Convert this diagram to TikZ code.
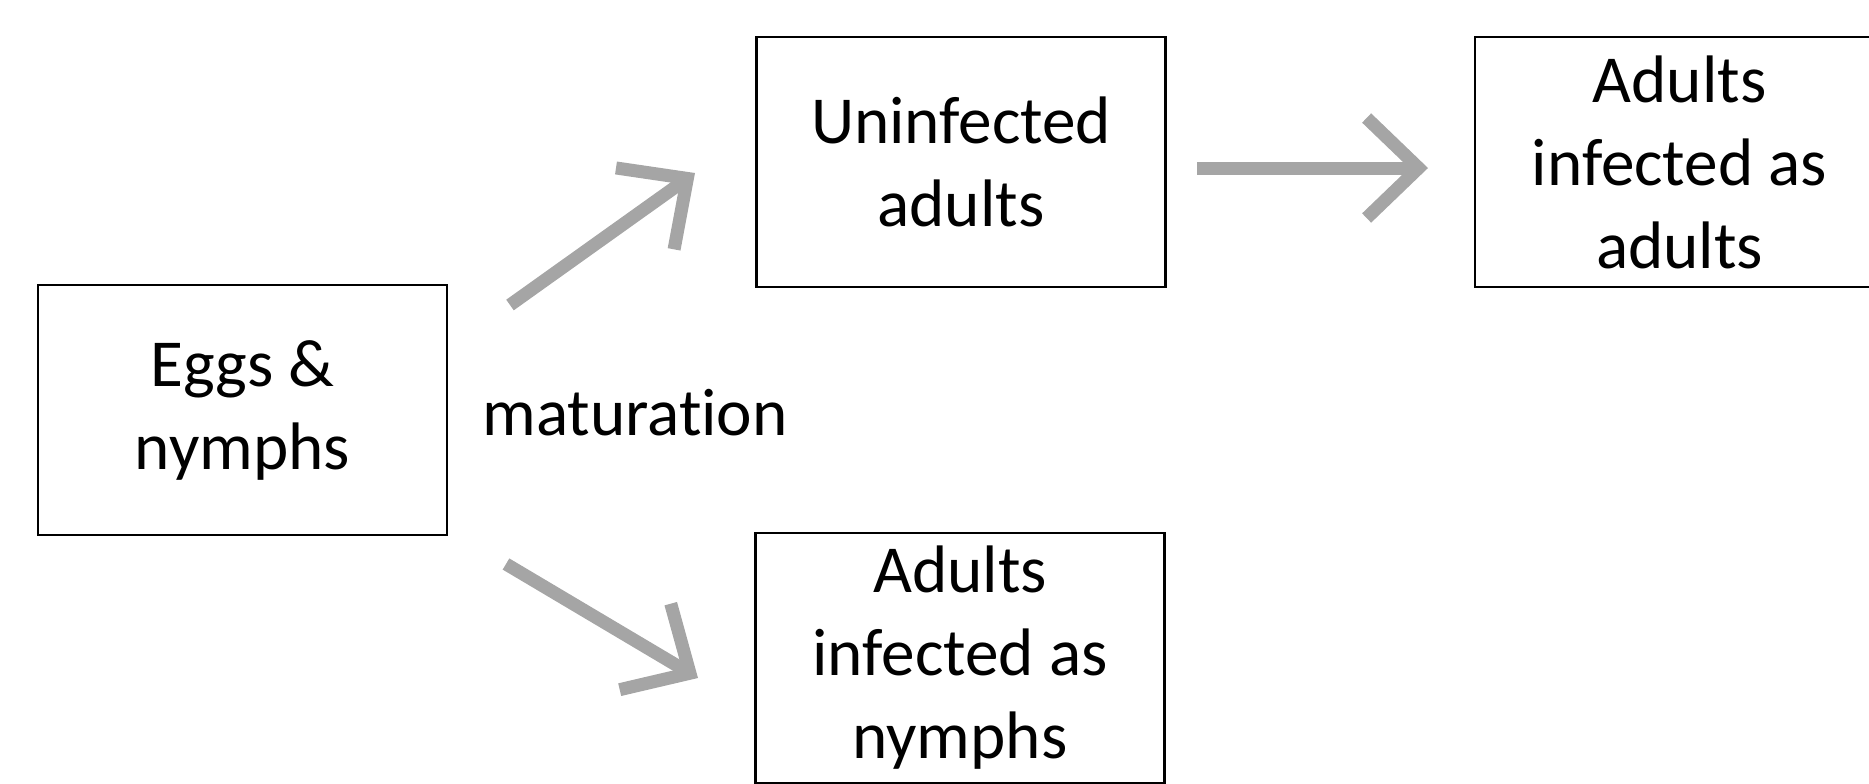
\documentclass[tikz,border=0pt]{standalone}
\usepackage{fontspec}
\setmainfont{Carlito}[Ligatures={NoCommon}]
\usepackage{color}
\definecolor{myarrowgray}{RGB}{165,165,165}
\usepackage{tikz}
\usetikzlibrary{arrows.meta,positioning}

\begin{document}
\begin{tikzpicture}[
  x=0.5pt,
  y=-0.5pt,
  mybox/.style={
    draw,
    line width=1.3pt,
    rectangle,
    minimum width=204.5pt,
    minimum height=125pt,
    inner sep=0pt,
    align=center,
    font=\fontsize{33.6}{41.5}\selectfont
    },
  myarrow/.style={
    draw=myarrowgray,
    line width=6.5pt,
    -{Straight Barb[length=26pt,width=50pt]}
  }
]
\useasboundingbox (0,0) rectangle (1869,783);

\node[mybox] (eggs) at (242.5,410) {Eggs \&\\nymphs};
\node[mybox] (uninf) at (961,162) {Uninfected\\adults};
\node[mybox] (infadult) at (1679.5,162) {Adults\\infected as\\adults};
\node[mybox] (infnymph) at (960,658) {Adults\\infected as\\nymphs};

\node[anchor=base, font=\fontsize{33.6}{41.5}\selectfont] (matur) at (635,435) {maturation};

\coordinate (upfrom) at (510,305);
\coordinate (upto) at (695,173);
\coordinate (downfrom) at (506,564);
\coordinate (downto) at (698,678);
\coordinate (rightfrom) at (1197,168);
\coordinate (rightto) at (1428,168);

\draw[myarrow] (upfrom) -- (upto);
\draw[myarrow] (downfrom) -- (downto);
\draw[myarrow] (rightfrom) -- (rightto);

\end{tikzpicture}
\end{document}
